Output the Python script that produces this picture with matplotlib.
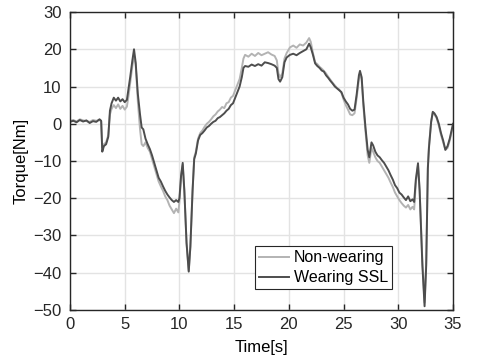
import matplotlib
matplotlib.use('Agg')
import matplotlib.pyplot as plt

# time [s]
time = [0.0, 0.3, 0.6, 0.9, 1.2, 1.5, 1.8, 2.1, 2.4, 2.7, 2.85, 2.95, 3.1, 3.3, 3.5, 3.65, 3.8,
        4.0, 4.2, 4.4, 4.6, 4.8, 5.0, 5.2, 5.35, 5.5, 5.7, 5.85, 6.0, 6.2, 6.4, 6.55, 6.7, 6.9,
        7.1, 7.3, 7.5, 7.7, 7.9, 8.1, 8.3, 8.5, 8.7, 8.9, 9.1, 9.3, 9.5, 9.7, 9.9, 10.0, 10.15,
        10.3, 10.45, 10.65, 10.85, 11.0, 11.2, 11.35, 11.5, 11.7, 11.9, 12.1, 12.3, 12.5, 12.7,
        12.9, 13.1, 13.3, 13.5, 13.7, 13.9, 14.1, 14.3, 14.5, 14.7, 14.9, 15.1, 15.3, 15.5, 15.7,
        15.85, 16.0, 16.3, 16.6, 16.9, 17.2, 17.5, 17.8, 18.1, 18.4, 18.7, 18.9, 19.05, 19.2,
        19.4, 19.6, 19.8, 20.1, 20.4, 20.7, 21.0, 21.3, 21.6, 21.85, 22.0, 22.2, 22.4, 22.6,
        22.8, 23.0, 23.2, 23.4, 23.6, 23.8, 24.0, 24.2, 24.4, 24.6, 24.8, 25.0, 25.2, 25.4,
        25.6, 25.8, 26.0, 26.2, 26.4, 26.5, 26.65, 26.8, 27.0, 27.2, 27.35, 27.55, 27.7, 27.9,
        28.1, 28.3, 28.5, 28.7, 28.9, 29.1, 29.3, 29.5, 29.7, 29.9, 30.1, 30.3, 30.5, 30.7,
        30.9, 31.1, 31.3, 31.45, 31.6, 31.8, 31.95, 32.2, 32.4, 32.55, 32.7, 32.8, 33.0, 33.15,
        33.3, 33.5, 33.7, 33.9, 34.1, 34.3, 34.5, 34.7, 34.85, 35.0]

# torque [Nm], wearing SSL
wearing = [0.5, 0.8, 0.4, 1.0, 0.6, 0.9, 0.2, 0.7, 0.5, 1.2, 0.8, -7.5, -6.0, -5.5, -3.5, 3.5, 5.5,
           7.0, 6.2, 7.0, 6.0, 6.6, 5.8, 6.4, 9.5, 12.5, 17.0, 20.0, 16.5, 8.0, 2.5, -1.0, -1.5, -4.0,
           -5.5, -6.8, -8.5, -10.5, -12.5, -14.5, -15.5, -16.8, -18.0, -19.0, -19.8, -20.5, -21.0,
           -20.5, -21.0, -20.0, -14.0, -10.5, -18.0, -32.0, -39.7, -33.0, -18.0, -9.5, -8.0, -4.5,
           -3.0, -2.5, -1.8, -1.0, -0.6, 0.0, 0.5, 0.8, 1.5, 1.8, 2.3, 2.8, 3.5, 4.0, 5.0, 5.5, 7.0,
           8.5, 10.0, 12.5, 15.0, 15.5, 15.3, 15.9, 15.5, 16.0, 15.6, 16.5, 16.3, 16.0, 15.6, 15.0,
           12.0, 11.3, 12.5, 16.5, 17.8, 18.5, 18.8, 18.4, 19.0, 19.5, 20.0, 21.5, 20.5, 18.5, 16.2,
           15.5, 15.0, 14.3, 14.0, 13.0, 12.3, 11.5, 10.8, 10.0, 9.5, 9.0, 8.5, 7.0, 6.0, 5.2, 4.0,
           3.5, 3.8, 8.0, 13.0, 14.2, 12.5, 6.0, -1.0, -7.0, -9.0, -5.0, -5.8, -7.5, -8.5, -9.0,
           -9.8, -10.5, -11.5, -12.5, -13.8, -15.0, -16.5, -17.3, -18.5, -19.0, -19.8, -20.5, -19.5,
           -20.8, -20.3, -21.0, -15.0, -10.6, -18.0, -38.0, -49.0, -38.0, -12.0, -6.5, 0.5, 3.2,
           2.8, 1.8, 0.0, -2.5, -4.5, -7.0, -6.0, -4.0, -2.0, 0.0]

# torque [Nm], non-wearing
non_wearing = [0.8, 1.0, 0.6, 1.2, 0.9, 0.7, 0.5, 1.0, 0.8, 1.0, 0.6, -6.5, -5.5, -5.0, -3.0, 2.5, 4.0,
               5.0, 4.2, 5.2, 4.0, 4.8, 3.8, 4.6, 7.5, 11.0, 15.5, 18.0, 16.0, 6.0, -1.5, -5.5, -6.0,
               -5.0, -6.5, -7.5, -9.5, -11.5, -13.5, -15.5, -16.8, -18.0, -19.5, -20.5, -22.0, -23.0,
               -24.0, -22.8, -23.8, -21.0, -14.0, -11.0, -18.0, -32.0, -39.5, -33.0, -18.0, -9.0,
               -7.5, -4.0, -2.5, -1.8, -0.8, 0.0, 0.5, 1.2, 2.0, 2.5, 3.3, 3.8, 4.5, 4.2, 5.5, 5.8,
               7.0, 7.5, 9.0, 10.5, 12.0, 15.0, 17.5, 18.5, 18.0, 18.8, 18.2, 19.0, 18.4, 18.8, 19.2,
               18.6, 18.2, 17.0, 13.5, 12.5, 13.5, 17.5, 19.0, 20.5, 21.0, 20.4, 21.3, 21.0, 21.8,
               23.0, 22.0, 19.0, 16.5, 16.0, 15.3, 14.8, 14.2, 13.5, 12.6, 11.8, 11.0, 10.3, 9.6, 9.2,
               8.3, 6.5, 5.0, 3.8, 2.5, 2.3, 2.8, 7.0, 12.0, 13.5, 12.0, 5.0, -2.0, -8.5, -10.5, -6.5,
               -7.5, -9.0, -10.0, -10.5, -11.5, -12.5, -13.5, -14.5, -15.8, -17.0, -18.5, -19.5,
               -20.5, -21.3, -22.0, -22.5, -21.8, -23.0, -22.3, -23.0, -16.0, -11.0, -18.0, -37.0,
               -48.0, -37.0, -11.5, -6.0, 0.5, 3.0, 2.5, 1.5, -0.5, -3.0, -5.0, -7.0, -6.5, -4.5,
               -2.5, -0.5]

xticks = [0, 5, 10, 15, 20, 25, 30, 35]
yticks = [-50, -40, -30, -20, -10, 0, 10, 20, 30]

plt.rcParams['font.family'] = ['Liberation Sans', 'DejaVu Sans']

fig = plt.figure(figsize=(4.84, 3.64), dpi=100)
ax = fig.add_axes([0.1446, 0.1484, 0.7914, 0.8186])

ax.plot(time, non_wearing, color='#b3b3b3', lw=1.4, label='Non-wearing')
ax.plot(time, wearing, color='#4d4d4d', lw=1.4, label='Wearing SSL')

ax.set_xlim(0, 35)
ax.set_ylim(-50, 30)
ax.set_xticks(xticks)
ax.set_yticks(yticks)
ax.grid(True, color='#e3e3e3', lw=1.0)
ax.set_axisbelow(True)
ax.tick_params(direction='in', top=True, right=True, length=4, width=1.0,
               labelsize=12, colors='#262626')
ax.tick_params(axis='y', pad=6)
ax.tick_params(axis='x', pad=5)
for s in ax.spines.values():
    s.set_linewidth(1.0)
    s.set_color('#262626')

ax.set_xlabel('Time[s]', fontsize=12, labelpad=6)
ax.set_ylabel('Torque[Nm]', fontsize=12, labelpad=3)

leg = ax.legend(loc='lower right', bbox_to_anchor=(0.841, 0.07), fontsize=11.5,
                fancybox=False, framealpha=1, edgecolor='#262626',
                handlelength=1.9, handletextpad=0.3, borderpad=0.25, labelspacing=0.3,
                borderaxespad=0)
leg.get_frame().set_linewidth(0.8)

fig.savefig('out.png', dpi=100)
